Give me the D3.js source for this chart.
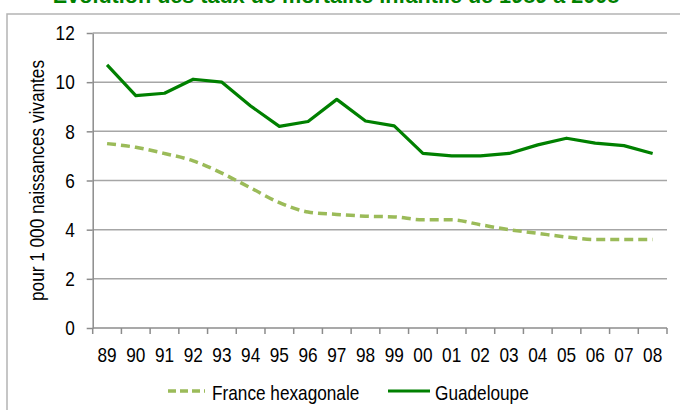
<!DOCTYPE html>
<meta charset="utf-8">
<style>
    body { margin: 0; background: #fff; }
    svg { display: block; }
    text { font-family: "Liberation Sans", Arial, sans-serif; fill: #000; }
    .title { font-weight: bold; fill: #008000; }
    .grid line { stroke: #a6a6a6; stroke-width: 1.5; }
    .axis path, .axis line { stroke: #8c8c8c; stroke-width: 1.5; }
</style>
<svg width="680" height="410"></svg>
<script src="https://d3js.org/d3.v7.min.js"></script>
<script>

    var years = ["89", "90", "91", "92", "93", "94", "95", "96", "97", "98",
                 "99", "00", "01", "02", "03", "04", "05", "06", "07", "08"];
    var franceHex = [7.5, 7.35, 7.1, 6.8, 6.3, 5.7, 5.1, 4.72, 4.62, 4.55,
                     4.52, 4.4, 4.4, 4.2, 4.0, 3.85, 3.7, 3.6, 3.6, 3.6];
    var guadeloupe = [10.7, 9.45, 9.55, 10.12, 10.0, 9.03, 8.2, 8.4, 9.3, 8.42,
                      8.22, 7.1, 7.0, 7.0, 7.1, 7.45, 7.72, 7.52, 7.42, 7.1];
    var yTicks = [0, 2, 4, 6, 8, 10, 12];
    var seriesNames = ["France hexagonale", "Guadeloupe"];

    var svg = d3.select("svg");

    // narrow look: the source font is a condensed one
    var squeeze = 0.82;

    var plotL = 92.7, plotR = 667, plotT = 33, plotB = 328;

    var x = d3.scaleBand()
        .domain(years)
        .range([plotL, plotR])
        .padding(0);

    var y = d3.scaleLinear()
        .domain([0, 12])
        .range([plotB, plotT]);

    // frame + title (cut off at the top)
    svg.append("rect")
        .attr("x", 7).attr("y", 14)
        .attr("width", 700).attr("height", 420)
        .attr("fill", "none")
        .attr("stroke", "#b4b4b4")
        .attr("stroke-width", 1.5);

    svg.append("text")
        .attr("class", "title")
        .attr("x", 336).attr("y", 3)
        .attr("text-anchor", "middle")
        .attr("font-size", "21.6px")
        .text("Evolution des taux de mortalité infantile de 1989 à 2008");

    // gridlines
    svg.append("g")
        .attr("class", "grid")
        .selectAll("line")
        .data(yTicks.filter(function (d) { return d > 0; }))
        .enter().append("line")
        .attr("x1", plotL).attr("x2", plotR)
        .attr("y1", function (d) { return y(d); })
        .attr("y2", function (d) { return y(d); });

    // y axis
    var gy = svg.append("g")
        .attr("class", "axis")
        .attr("transform", "translate(" + plotL + ",0)")
        .call(d3.axisLeft(y).tickValues(yTicks).tickSize(6).tickSizeOuter(0));
    gy.selectAll("text")
        .attr("x", -18 / squeeze)
        .attr("transform", "scale(" + squeeze + ",1)")
        .attr("font-size", "21px")
        .attr("font-family", null);

    // x axis
    var gx = svg.append("g")
        .attr("class", "axis")
        .attr("transform", "translate(0," + plotB + ")")
        .call(d3.axisBottom(x).tickSize(0).tickSizeOuter(0));
    gx.selectAll("text")
        .attr("y", 34)
        .attr("dy", 0)
        .attr("transform", "scale(" + squeeze + ",1)")
        .attr("font-size", "21px")
        .attr("font-family", null);
    gx.select(".domain").attr("d", "M" + plotL + ",0H" + plotR);
    gx.selectAll(".bound")
        .data(years.map(function (d) { return x(d); }).concat([plotR]))
        .enter().append("line")
        .attr("class", "bound")
        .attr("x1", function (d) { return d; })
        .attr("x2", function (d) { return d; })
        .attr("y1", 0).attr("y2", 6);

    // y title
    svg.append("text")
        .attr("transform", "translate(37," + ((plotT + plotB) / 2) + ") rotate(-90) scale(" + squeeze + ",1)")
        .attr("text-anchor", "middle")
        .attr("dy", "0.35em")
        .attr("font-size", "21px")
        .text("pour 1 000 naissances vivantes");

    // lines
    var cx = function (d, i) { return x(years[i]) + x.bandwidth() / 2; };

    svg.append("path")
        .datum(franceHex)
        .attr("fill", "none")
        .attr("stroke", "#9bbb59")
        .attr("stroke-width", 3.5)
        .attr("stroke-dasharray", "9,5")
        .attr("d", d3.line().x(cx).y(function (d) { return y(d); }).curve(d3.curveMonotoneX));

    svg.append("path")
        .datum(guadeloupe)
        .attr("fill", "none")
        .attr("stroke", "#008000")
        .attr("stroke-width", 3.2)
        .attr("stroke-linejoin", "round")
        .attr("d", d3.line().x(cx).y(function (d) { return y(d); }));

    // legend
    var legend = svg.append("g");
    var items = [
        { name: seriesNames[0], x1: 168, x2: 205, tx: 212, color: "#9bbb59", dash: "8,4", w: 3.5 },
        { name: seriesNames[1], x1: 388, x2: 430, tx: 435, color: "#008000", dash: null, w: 3.2 }
    ];
    items.forEach(function (it) {
        legend.append("line")
            .attr("x1", it.x1).attr("x2", it.x2)
            .attr("y1", 391).attr("y2", 391)
            .attr("stroke", it.color)
            .attr("stroke-width", it.w)
            .attr("stroke-dasharray", it.dash);
        legend.append("text")
            .attr("transform", "translate(" + it.tx + ",400) scale(" + squeeze + ",1)")
            .attr("font-size", "21px")
            .text(it.name);
    });

</script>
